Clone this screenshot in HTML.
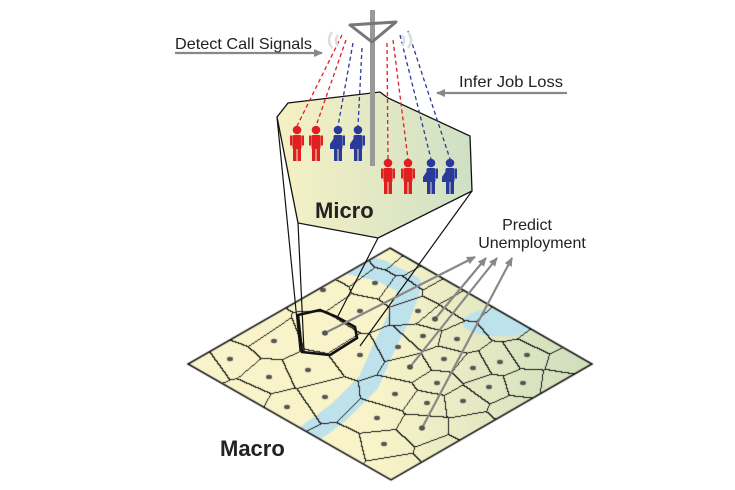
<!DOCTYPE html>
<html><head><meta charset="utf-8"><style>
html,body{margin:0;padding:0;background:#fff}
#w{position:relative;width:735px;height:490px;overflow:hidden}
canvas,svg{position:absolute;left:0;top:0}
</style></head><body><div id="w">
<canvas id="c" width="735" height="490"></canvas>
<svg width="735" height="490" viewBox="0 0 735 490" font-family="Liberation Sans, sans-serif">
<defs>
<linearGradient id="mg" x1="0" y1="0" x2="1" y2="0"><stop offset="0" stop-color="#f6f1c4"/><stop offset="1" stop-color="#cfe0c4"/></linearGradient>
<marker id="ah" markerWidth="10" markerHeight="10" refX="8" refY="5" orient="auto" markerUnits="userSpaceOnUse"><path d="M0,1 L9,5 L0,9 Z" fill="#888"/></marker>
<g id="pr"><circle cx="0" cy="0" r="4.3"/><rect x="-4.5" y="5" width="9" height="14" rx="1.5"/><rect x="-7" y="5.5" width="2.2" height="10"/><rect x="4.8" y="5.5" width="2.2" height="10"/><rect x="-4" y="18" width="3.5" height="13"/><rect x="0.5" y="18" width="3.5" height="13"/></g>
<g id="pb"><circle cx="0" cy="0" r="4.3"/><rect x="-4.5" y="5" width="9" height="14" rx="1.5"/><path d="M-4,8 L-8,14 L-8,19 L-3,19 Z"/><rect x="4.8" y="5.5" width="2.2" height="10"/><rect x="-4" y="18" width="3.5" height="13"/><rect x="0.5" y="18" width="3.5" height="13"/></g>
</defs>
<g stroke="#111" stroke-width="1.2" fill="none">
<line x1="277" y1="117" x2="300" y2="351"/>
<line x1="298" y1="223" x2="304" y2="351"/>
<line x1="378" y1="238" x2="338" y2="316"/>
<line x1="472" y1="191" x2="360" y2="346"/>
</g>
<polygon points="298,315 320,310 337,317 355,327 357,338 330,355 302,352" fill="none" stroke="#111" stroke-width="2.6"/>
<g stroke="#888" stroke-width="2.2" marker-end="url(#ah)">
<line x1="325" y1="333" x2="475" y2="257"/>
<line x1="435" y1="319" x2="486" y2="258"/>
<line x1="410" y1="367" x2="497" y2="258"/>
<line x1="422" y1="428" x2="512" y2="258"/>
</g>
<g fill="#555"><circle cx="325" cy="333" r="2.6"/><circle cx="435" cy="319" r="2.6"/><circle cx="410" cy="367" r="2.6"/><circle cx="422" cy="428" r="2.6"/></g>
<polygon points="288,103 380,92 388,98 470,136 472,191 378,238 298,223 277,117" fill="url(#mg)" stroke="#111" stroke-width="1.3"/>
<g stroke-width="1.3" stroke-dasharray="4,3" fill="none">
<line x1="342" y1="35" x2="297" y2="126" stroke="#e02020"/>
<line x1="346" y1="40" x2="316" y2="126" stroke="#e02020"/>
<line x1="353" y1="43" x2="338" y2="126" stroke="#2a3a9a"/>
<line x1="362" y1="48" x2="358" y2="126" stroke="#2a3a9a"/>
<line x1="387" y1="43" x2="388" y2="159" stroke="#e02020"/>
<line x1="393" y1="40" x2="408" y2="159" stroke="#e02020"/>
<line x1="400" y1="35" x2="431" y2="159" stroke="#2a3a9a"/>
<line x1="408" y1="31" x2="450" y2="159" stroke="#2a3a9a"/>
</g>
<rect x="370" y="10" width="5" height="156" fill="#999"/>
<polygon points="350,25 396,22 372,42" fill="none" stroke="#777" stroke-width="3" stroke-linejoin="round"/>
<g fill="none" stroke="#ddd" stroke-width="2.5">
<path d="M332,32 Q326,40 332,48"/><path d="M338,35 Q334,40 338,46"/>
<path d="M408,32 Q414,40 408,48"/><path d="M402,35 Q406,40 402,46"/>
</g>
<g fill="#e02020"><use href="#pr" x="297" y="130"/><use href="#pr" x="316" y="130"/><use href="#pr" x="388" y="163"/><use href="#pr" x="408" y="163"/></g>
<g fill="#2a3a9a"><use href="#pb" x="338" y="130"/><use href="#pb" x="358" y="130"/><use href="#pb" x="431" y="163"/><use href="#pb" x="450" y="163"/></g>
<line x1="175" y1="53" x2="322" y2="53" stroke="#888" stroke-width="2.2" marker-end="url(#ah)"/>
<line x1="567" y1="93" x2="437" y2="93" stroke="#888" stroke-width="2.2" marker-end="url(#ah)"/>
<g fill="#222" font-size="16">
<text x="175" y="49" textLength="137" lengthAdjust="spacingAndGlyphs">Detect Call Signals</text>
<text x="459" y="87" textLength="104" lengthAdjust="spacingAndGlyphs">Infer Job Loss</text>
<text x="527" y="230" text-anchor="middle">Predict</text>
<text x="532" y="248" text-anchor="middle">Unemployment</text>
</g>
<text x="315" y="218" font-size="22" font-weight="bold" fill="#222">Micro</text>
<text x="220" y="456" font-size="22" font-weight="bold" fill="#222">Macro</text>
</svg>
</div>
<script>
(function(){
var c=document.getElementById('c'),g=c.getContext('2d');
var W=735,H=490;
var dots=[[323,290],[375,283],[360,311],[418,311],[435,319],[325,333],[274,341],[230,359],[269,377],[308,370],[360,355],[398,347],[423,336],[457,339],[410,367],[444,359],[473,368],[500,362],[527,355],[437,383],[489,387],[523,383],[325,397],[287,407],[395,394],[427,403],[463,401],[377,418],[422,428],[384,444]];
var extra=[[405,262],[425,276],[445,290],[462,302],[392,256],[350,270],[255,330],[205,366],[245,398],[340,448],[395,470],[445,452],[475,428],[515,410],[560,385],[570,360],[545,340],[510,322],[400,290]];
var sites=dots.concat(extra);
function inside(x,y){var dx=x-390,dy=y-248;var u=(dy/116+dx/202)/2,v=(dy/116-dx/202)/2;return u>=0&&v>=0&&u<=1&&v<=1;}
var river=[[345,262],[380,270],[410,285],[398,318],[383,348],[368,382],[338,412],[300,440]];
function dseg(px,py,a,b){var vx=b[0]-a[0],vy=b[1]-a[1];var t=((px-a[0])*vx+(py-a[1])*vy)/(vx*vx+vy*vy);t=Math.max(0,Math.min(1,t));var qx=a[0]+t*vx-px,qy=a[1]+t*vy-py;return Math.sqrt(qx*qx+qy*qy);}
function water(x,y){var d=1e9;for(var i=0;i<river.length-1;i++){d=Math.min(d,dseg(x,y,river[i],river[i+1]));}
var ex=(x-500)/38,ey=(y-322)/14;return d<11||ex*ex+ey*ey<1;}
var lab=new Int16Array(W*H).fill(-1);
for(var y=240;y<485;y++)for(var x=180;x<600;x++){if(!inside(x,y))continue;var best=0,bd=1e9;for(var k=0;k<sites.length;k++){var ax=x-sites[k][0],ay=(y-sites[k][1])*1.6;var d=ax*ax+ay*ay;if(d<bd){bd=d;best=k;}}lab[y*W+x]=best;}
var img=g.createImageData(W,H),D=img.data;
for(var i=0;i<W*H*4;i+=4){D[i]=255;D[i+1]=255;D[i+2]=255;D[i+3]=255;}
for(var y=0;y<H;y++)for(var x=0;x<W;x++){var l=lab[y*W+x];if(l<0)continue;var r,gg,b;
if(water(x,y)){r=190;gg=226;b=236;}else{var t=Math.max(0,Math.min(1,(x-380)/200));if(x<385&&y<430)t=0;r=248-40*t;gg=243-20*t;b=200-10*t;}
var e=false;if(x+1<W&&lab[y*W+x+1]>=0&&lab[y*W+x+1]!=l)e=true;if(y+1<H&&lab[(y+1)*W+x]>=0&&lab[(y+1)*W+x]!=l)e=true;
if(e){r=25;gg=25;b=25;}var p=(y*W+x)*4;D[p]=r;D[p+1]=gg;D[p+2]=b;}
g.putImageData(img,0,0);
g.strokeStyle='#111';g.lineWidth=1.5;g.beginPath();g.moveTo(390,248);g.lineTo(592,364);g.lineTo(391,480);g.lineTo(188,364);g.closePath();g.stroke();
g.fillStyle='#555';for(var k=0;k<dots.length;k++){g.beginPath();g.ellipse(dots[k][0],dots[k][1],3,2.2,0,0,6.3);g.fill();}
})();
</script>
</body></html>
